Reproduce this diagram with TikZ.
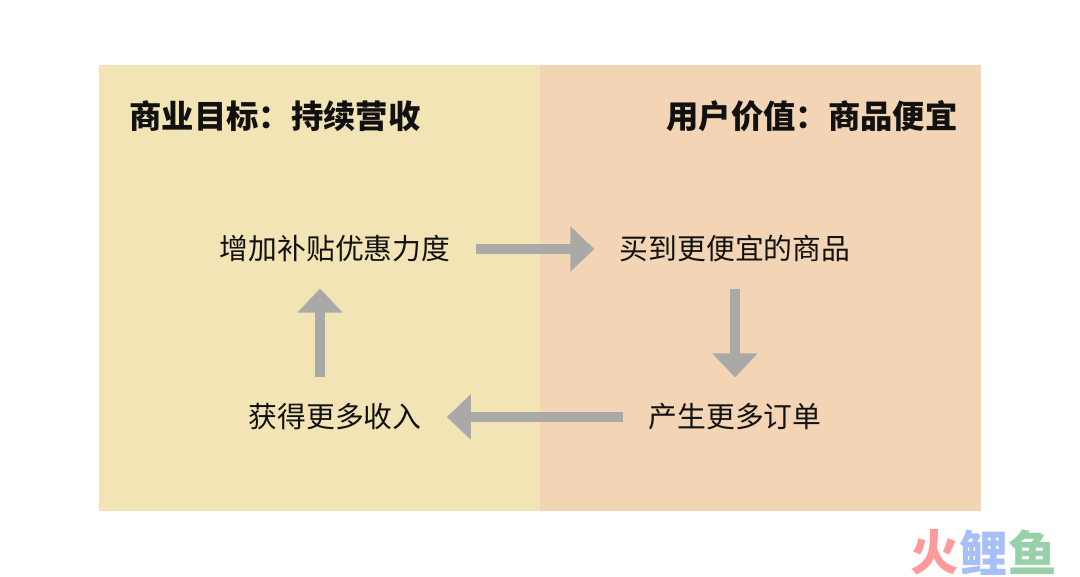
\documentclass[tikz,border=0pt]{standalone}
\usepackage{fontspec}
\usetikzlibrary{arrows.meta}
\setmainfont{Noto Sans CJK SC}
\definecolor{leftbg}{HTML}{F3E4B6}
\definecolor{rightbg}{HTML}{F3D5B5}
\definecolor{arrowgray}{HTML}{A9A9A7}
\definecolor{textdark}{HTML}{111111}
\definecolor{wmred}{HTML}{FF9A9A}
\definecolor{wmblue}{HTML}{A6BFF8}
\definecolor{wmgreen}{HTML}{98D1A8}
\tikzset{
    panel/.style={minimum width=8.82cm,minimum height=8.92cm,inner sep=0pt,outer sep=0pt},
    title/.style={text=textdark,font=\fontsize{18.4}{20}\bfseries,inner sep=0pt},
    item/.style={text=textdark,font=\fontsize{16.4}{18}\selectfont,inner sep=0pt,text height=0.5cm,text depth=0.07cm},
    flow/.style={arrowgray,line width=0.21cm,-{Triangle[length=0.48cm,width=0.88cm]},shorten >=0.5cm,shorten <=0.5cm},
    logomark/.style={font=\fontsize{27.5}{30}\bfseries,inner sep=0pt}
}
\begin{document}
\begin{tikzpicture}
    \useasboundingbox (0,0) rectangle (21.6,11.52);

    \node (leftpanel) at (6.39,5.76) [panel,fill=leftbg] {};
    \node (rightpanel) at (15.21,5.76) [panel,fill=rightbg] {};

    \node (goal) at (5.5,9.2) [title] {商业目标：持续营收};
    \node (value) at (16.24,9.2) [title] {用户价值：商品便宜};

    \node (subsidy) at (6.7,6.54) [item] {增加补贴优惠力度};
    \node (cheap) at (14.7,6.54) [item] {买到更便宜的商品};
    \node (orders) at (14.7,3.18) [item] {产生更多订单};
    \node (income) at (6.7,3.18) [item] {获得更多收入};

    \draw[flow] (subsidy.east) -- (cheap.west);
    \draw[flow] (cheap.south) -- (orders.north);
    \draw[flow] (orders.west) -- (income.east);
    \draw[flow] ([xshift=-0.3cm]income.north) -- ([xshift=-0.3cm]subsidy.south);

    \node (logo1) at (18.7,0.47) [logomark,text=wmred] {火};
    \node (logo2) at (19.68,0.47) [logomark,text=wmblue] {鲤};
    \node (logo3) at (20.66,0.47) [logomark,text=wmgreen] {鱼};
\end{tikzpicture}
\end{document}
